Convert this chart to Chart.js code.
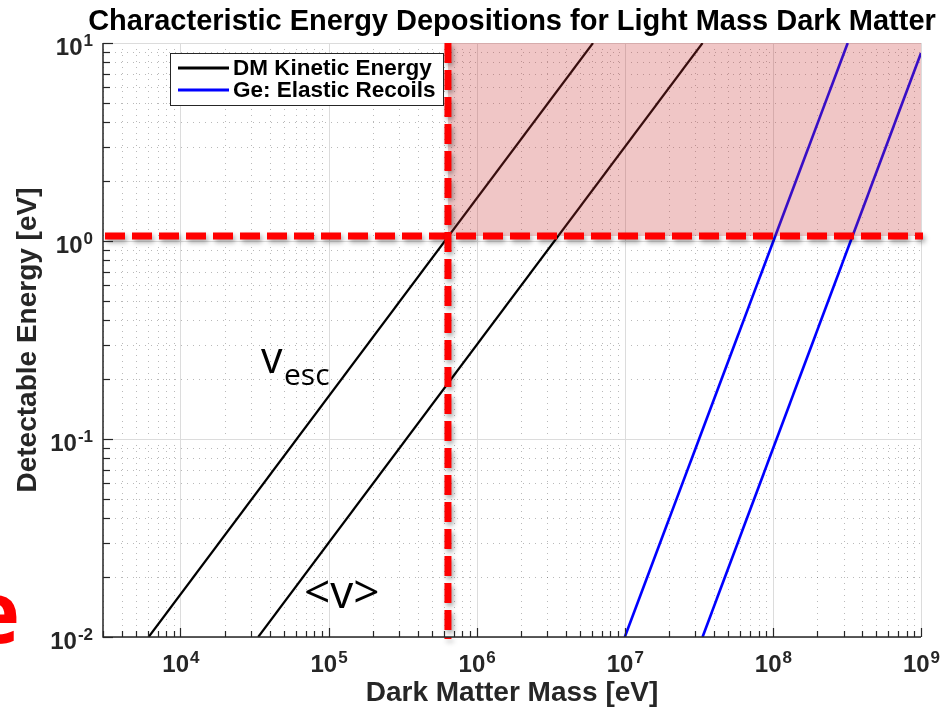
<!DOCTYPE html>
<html>
<head>
<meta charset="utf-8">
<script src="https://cdn.jsdelivr.net/npm/chart.js@4.4.1/dist/chart.umd.min.js"></script>
<style>
  html, body { margin: 0; padding: 0; background: #ffffff; }
  #chartBox { width: 945px; height: 708px; }
</style>
</head>
<body>
<div id="chartBox"><canvas id="energyChart" width="945" height="708"></canvas></div>
<script>
// Line end points (mass in eV, energy in eV)
const massVesc = [6.1e3, 6.1e6];
const energyVesc = [0.01, 10];
const massVmean = [3.35e4, 3.35e7];
const energyVmean = [0.01, 10];
const massGeVesc = [1.0e7, 3.2e8];
const energyGeVesc = [0.01, 10];
const massGeVmean = [3.35e7, 1.0e9];
const energyGeVmean = [0.01, 8.9];

// Detection threshold box
const thresholdMass = 6.4e5;
const thresholdEnergy = 1.06;

// Axis ranges and decade labels
const massRange = [3e3, 1e9];
const energyRange = [0.01, 10];
const xTickExponents = [4, 5, 6, 7, 8, 9];
const yTickExponents = [-2, -1, 0, 1];

const legendLabels = ['DM Kinetic Energy', 'Ge: Elastic Recoils'];
const legendColors = ['#000000', '#0000ff'];

const titleText = 'Characteristic Energy Depositions for Light Mass Dark Matter';
const xTitle = 'Dark Matter Mass [eV]';
const yTitle = 'Detectable Energy [eV]';

const AXIS_COLOR = '#262626';
const SANS = '"Liberation Sans", Arial, Helvetica, sans-serif';

function toPoints(xs, ys) {
    return xs.map((x, i) => ({ x: x, y: ys[i] }));
}

// tick values for a log axis: k * 10^n inside the range
function logTicks(min, max) {
    const out = [];
    for (let n = Math.floor(Math.log10(min)); n <= Math.ceil(Math.log10(max)); n++) {
        for (let k = 1; k <= 9; k++) {
            const v = k * Math.pow(10, n);
            if (v >= min * 0.999 && v <= max * 1.001) out.push({ v: v, major: k === 1 });
        }
    }
    return out;
}

// "10" with a raised exponent
function drawPower(ctx, exp, x, y, align) {
    const base = '10';
    const sup = String(exp);
    ctx.font = 'bold 24px ' + SANS;
    const wb = ctx.measureText(base).width;
    ctx.font = 'bold 17px ' + SANS;
    const ws = ctx.measureText(sup).width;
    let left = x;
    if (align === 'center') left = x - (wb + ws) / 2;
    if (align === 'right') left = x - (wb + ws);
    ctx.textAlign = 'left';
    ctx.textBaseline = 'alphabetic';
    ctx.font = 'bold 24px ' + SANS;
    ctx.fillText(base, left, y);
    ctx.font = 'bold 17px ' + SANS;
    ctx.fillText(sup, left + wb + 1, y - 9);
}

const gridPlugin = {
    id: 'matlabGrid',
    beforeDatasetsDraw(chart) {
        const { ctx, chartArea: a, scales: { x, y } } = chart;
        ctx.save();
        ctx.lineWidth = 1;
        // minor dotted grid
        ctx.strokeStyle = 'rgba(60,60,60,0.36)';
        ctx.setLineDash([1, 5]);
        logTicks(massRange[0], massRange[1]).filter(t => !t.major).forEach(t => {
            const px = Math.round(x.getPixelForValue(t.v)) + 0.5;
            ctx.beginPath(); ctx.moveTo(px, a.top); ctx.lineTo(px, a.bottom); ctx.stroke();
        });
        logTicks(energyRange[0], energyRange[1]).filter(t => !t.major).forEach(t => {
            const py = Math.round(y.getPixelForValue(t.v)) + 0.5;
            ctx.beginPath(); ctx.moveTo(a.left, py); ctx.lineTo(a.right, py); ctx.stroke();
        });
        // major solid grid
        ctx.setLineDash([]);
        ctx.strokeStyle = '#dcdcdc';
        xTickExponents.forEach(n => {
            const px = Math.round(x.getPixelForValue(Math.pow(10, n))) + 0.5;
            ctx.beginPath(); ctx.moveTo(px, a.top); ctx.lineTo(px, a.bottom); ctx.stroke();
        });
        yTickExponents.forEach(n => {
            const py = Math.round(y.getPixelForValue(Math.pow(10, n))) + 0.5;
            ctx.beginPath(); ctx.moveTo(a.left, py); ctx.lineTo(a.right, py); ctx.stroke();
        });
        ctx.restore();
    },
    afterDatasetsDraw(chart) {
        const { ctx, chartArea: a, scales: { x, y } } = chart;
        const tx = x.getPixelForValue(thresholdMass);
        const ty = y.getPixelForValue(thresholdEnergy);
        ctx.save();
        // accessible region shading
        ctx.fillStyle = 'rgba(200,50,50,0.28)';
        ctx.fillRect(tx, a.top, a.right - tx, ty - a.top);

        // threshold dashed lines
        ctx.strokeStyle = '#ff0000';
        ctx.lineWidth = 7;
        ctx.setLineDash([20, 7]);
        ctx.shadowColor = 'rgba(0,0,0,0.35)';
        ctx.shadowBlur = 5;
        ctx.shadowOffsetX = 2;
        ctx.shadowOffsetY = 3;
        ctx.beginPath(); ctx.moveTo(a.left + 2, ty); ctx.lineTo(a.right + 2, ty); ctx.stroke();
        ctx.beginPath(); ctx.moveTo(tx, a.top); ctx.lineTo(tx, a.bottom + 2); ctx.stroke();
        ctx.restore();
    },
    afterDraw(chart) {
        const { ctx, chartArea: a, scales: { x, y } } = chart;
        ctx.save();
        // axis lines with inward ticks
        ctx.strokeStyle = AXIS_COLOR;
        ctx.lineWidth = 1.5;
        ctx.beginPath();
        ctx.moveTo(a.left, a.top); ctx.lineTo(a.left, a.bottom); ctx.lineTo(a.right, a.bottom);
        ctx.stroke();
        ctx.lineWidth = 1.2;
        logTicks(massRange[0], massRange[1]).forEach(t => {
            const px = Math.round(x.getPixelForValue(t.v)) + 0.5;
            const len = t.major ? 9 : 6;
            ctx.beginPath(); ctx.moveTo(px, a.bottom); ctx.lineTo(px, a.bottom - len); ctx.stroke();
        });
        logTicks(energyRange[0], energyRange[1]).forEach(t => {
            const py = Math.round(y.getPixelForValue(t.v)) + 0.5;
            const len = t.major ? 10 : 7;
            ctx.beginPath(); ctx.moveTo(a.left, py); ctx.lineTo(a.left + len, py); ctx.stroke();
        });

        // tick labels
        ctx.fillStyle = AXIS_COLOR;
        xTickExponents.forEach(n => {
            drawPower(ctx, n, x.getPixelForValue(Math.pow(10, n)), a.bottom + 35, 'center');
        });
        yTickExponents.forEach(n => {
            drawPower(ctx, n, a.left - 11, y.getPixelForValue(Math.pow(10, n)) + 12, 'right');
        });

        // axis titles
        ctx.font = 'bold 28px ' + SANS;
        ctx.textAlign = 'center';
        ctx.textBaseline = 'alphabetic';
        ctx.fillText(xTitle, (a.left + a.right) / 2, 701);
        ctx.save();
        ctx.translate(36, (a.top + a.bottom) / 2);
        ctx.rotate(-Math.PI / 2);
        ctx.fillText(yTitle, 0, 0);
        ctx.restore();

        // title
        ctx.fillStyle = '#000000';
        ctx.font = 'bold 29px ' + SANS;
        ctx.fillText(titleText, (a.left + a.right) / 2, 30);

        // legend
        const lx = 170, ly = 53, lw = 273, lh = 52;
        ctx.fillStyle = '#ffffff';
        ctx.fillRect(lx, ly, lw, lh);
        ctx.strokeStyle = AXIS_COLOR;
        ctx.lineWidth = 1;
        ctx.strokeRect(lx + 0.5, ly + 0.5, lw, lh);
        legendLabels.forEach((label, i) => {
            const rowY = 68 + i * 22;
            ctx.strokeStyle = legendColors[i];
            ctx.lineWidth = 2.8;
            ctx.beginPath(); ctx.moveTo(178, rowY); ctx.lineTo(229, rowY); ctx.stroke();
            ctx.fillStyle = '#000000';
            ctx.font = 'bold 22.5px ' + SANS;
            ctx.textAlign = 'left';
            ctx.textBaseline = 'middle';
            ctx.fillText(label, 233, rowY + 1);
        });

        // line annotations
        ctx.fillStyle = '#000000';
        ctx.textAlign = 'left';
        ctx.textBaseline = 'alphabetic';
        ctx.font = '43px "Open Sans", sans-serif';
        ctx.fillText('v', 261, 373);
        ctx.font = '30px "Open Sans", sans-serif';
        ctx.fillText('esc', 284, 385);
        ctx.font = '46px "Open Sans", sans-serif';
        ctx.fillText('<v>', 304, 608);

        // slide text cut off at the left edge
        ctx.fillStyle = '#ff0000';
        ctx.font = 'bold 86px "Open Sans", sans-serif';
        ctx.textAlign = 'right';
        ctx.fillText('e', 20, 643);
        ctx.restore();
    }
};

new Chart(document.getElementById('energyChart'), {
    type: 'scatter',
    data: {
        datasets: [
            { label: 'v_esc', data: toPoints(massVesc, energyVesc), borderColor: '#000000', borderWidth: 2.2 },
            { label: '<v>', data: toPoints(massVmean, energyVmean), borderColor: '#000000', borderWidth: 2.2 },
            { label: 'Ge v_esc', data: toPoints(massGeVesc, energyGeVesc), borderColor: '#0000ff', borderWidth: 2.6 },
            { label: 'Ge <v>', data: toPoints(massGeVmean, energyGeVmean), borderColor: '#0000ff', borderWidth: 2.6 }
        ].map(d => Object.assign(d, { showLine: true, pointRadius: 0, fill: false }))
    },
    options: {
        responsive: false,
        animation: false,
        devicePixelRatio: 1,
        layout: { padding: { left: 103, top: 43, right: 24, bottom: 71 } },
        scales: {
            x: { type: 'logarithmic', min: massRange[0], max: massRange[1], display: false },
            y: { type: 'logarithmic', min: energyRange[0], max: energyRange[1], display: false }
        },
        plugins: {
            legend: { display: false },
            tooltip: { enabled: false }
        }
    },
    plugins: [gridPlugin]
});
</script>
</body>
</html>
